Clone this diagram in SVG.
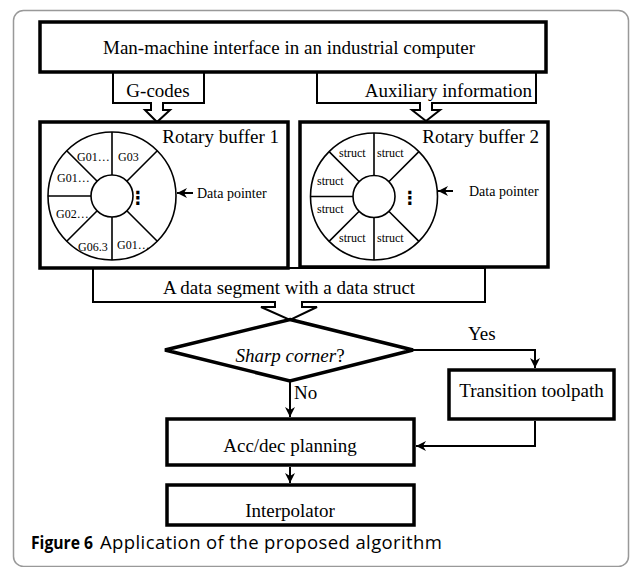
<svg xmlns="http://www.w3.org/2000/svg" width="637" height="567" viewBox="0 0 637 567">
<style>
.t{font-family:"Liberation Serif","Times New Roman",serif;fill:#000}
.m{font-size:19px}
.s{font-size:12px}
.p{font-size:14px}
.dots{font-family:"DejaVu Sans",sans-serif;font-size:18px;font-weight:bold}
.cap{font-family:"Open Sans",sans-serif;fill:#000}
.box{fill:#fff;stroke:#000;stroke-width:3.5}
.call{fill:#fff;stroke:#000;stroke-width:2}
.thin{fill:none;stroke:#000;stroke-width:1.6}
.con{fill:none;stroke:#000;stroke-width:2}
</style>
<defs>
<marker id="ah" viewBox="0 0 10 10" refX="10" refY="5" markerWidth="5" markerHeight="5" orient="auto" markerUnits="strokeWidth">
<path d="M0,0 L10,5 L0,10 L3,5 z" fill="#000"/>
</marker>
</defs>
<rect x="13.5" y="10.5" width="615" height="556" rx="10" fill="#fff" stroke="#999" stroke-width="1.5"/>

<g id="gcodes">
<path class="call" d="M113,72 V103 H151 V110 H145 L157,122 L170,110 H163 V103 H204 V72 Z"/>
<text class="t m" x="158" y="97" text-anchor="middle">G-codes</text>
</g>
<g id="aux">
<path class="call" d="M317,72 V103 H420 V110 H412 L426,121 L440,110 H432 V103 H536 V72 Z"/>
<text class="t m" x="532" y="97" text-anchor="end">Auxiliary information</text>
</g>
<g id="hmi">
<rect class="box" x="40" y="22" width="506" height="50" stroke-width="3"/>
<text class="t m" x="289" y="54" text-anchor="middle">Man-machine interface in an industrial computer</text>
</g>

<g id="segment">
<path class="call" d="M93,268 V302 H275 V307 H261 L290,320 L317,307 H302 V302 H485 V268 Z"/>
<text class="t m" x="289" y="294" text-anchor="middle">A data segment with a data struct</text>
</g>

<g id="buffer1">
<rect class="box" x="40" y="122" width="248" height="146"/>
<text class="t m" x="279" y="143" text-anchor="end">Rotary buffer 1</text>
<circle class="thin" cx="112" cy="196" r="64"/>
<circle class="thin" cx="112" cy="196" r="21"/>
<path class="thin" d="M112,175 V132 M112,217 V260 M91,196 H48 M97.2,181.2 L66.7,150.7 M126.8,181.2 L157.3,150.7 M97.2,210.8 L66.7,241.3 M126.8,210.8 L157.3,241.3"/>
<text class="t s" x="77" y="161">G01…</text>
<text class="t s" x="118" y="161">G03</text>
<text class="t s" x="57" y="182">G01…</text>
<text class="t s" x="56" y="218">G02…</text>
<text class="t s" x="78" y="251">G06.3</text>
<text class="t s" x="117" y="249">G01…</text>
<text class="dots" x="138" y="204" text-anchor="middle">⋮</text>
<path class="con" d="M193,193 H177" marker-end="url(#ah)"/>
<text class="t p" x="197" y="198">Data pointer</text>
</g>

<g id="buffer2">
<rect class="box" x="300" y="122" width="248" height="145"/>
<text class="t m" x="539" y="143" text-anchor="end">Rotary buffer 2</text>
<circle class="thin" cx="374" cy="196.5" r="63.5"/>
<circle class="thin" cx="374" cy="196.5" r="21"/>
<path class="thin" d="M374,175.5 V133 M374,217.5 V260 M353,196.5 H310.5 M359.2,181.7 L329.1,151.6 M388.8,181.7 L418.9,151.6 M359.2,211.3 L329.1,241.4 M388.8,211.3 L418.9,241.4"/>
<text class="t s" x="339" y="157">struct</text>
<text class="t s" x="377" y="157">struct</text>
<text class="t s" x="317" y="185">struct</text>
<text class="t s" x="317" y="213">struct</text>
<text class="t s" x="339" y="242">struct</text>
<text class="t s" x="377" y="242">struct</text>
<text class="dots" x="410" y="204" text-anchor="middle">⋮</text>
<path class="con" d="M453,191 H438" marker-end="url(#ah)"/>
<text class="t p" x="469" y="196">Data pointer</text>
</g>

<g id="decision">
<path class="box" d="M290,319.5 L413,350 L290,381 L165,350 Z"/>
<text class="t m" x="290" y="362" text-anchor="middle"><tspan font-style="italic">Sharp corner</tspan>?</text>
</g>

<g id="transition">
<rect class="box" x="449" y="370" width="165" height="49"/>
<text class="t m" x="531.5" y="397" text-anchor="middle">Transition toolpath</text>
</g>

<g id="accdec">
<rect class="box" x="167" y="419" width="247" height="46"/>
<text class="t m" x="290" y="452" text-anchor="middle">Acc/dec planning</text>
</g>

<g id="interp">
<rect class="box" x="167" y="485" width="247" height="40"/>
<text class="t m" x="290" y="517" text-anchor="middle">Interpolator</text>
</g>

<g id="connectors">
<path class="con" d="M413,350 H535 V368" marker-end="url(#ah)"/>
<path class="con" d="M290,381 V417" marker-end="url(#ah)"/>
<path class="con" d="M535,421 V446 H416" marker-end="url(#ah)"/>
<path class="con" d="M290,467 V483" marker-end="url(#ah)"/>
<text class="t m" x="468" y="340">Yes</text>
<text class="t m" x="294" y="399">No</text>
</g>

<g id="caption">
<text class="cap" x="31" y="549" font-size="17.5" font-weight="bold" textLength="62" lengthAdjust="spacingAndGlyphs">Figure 6</text>
<text class="cap" x="100" y="549" font-size="18.5" textLength="342" lengthAdjust="spacing">Application of the proposed algorithm</text>
</g>
</svg>
